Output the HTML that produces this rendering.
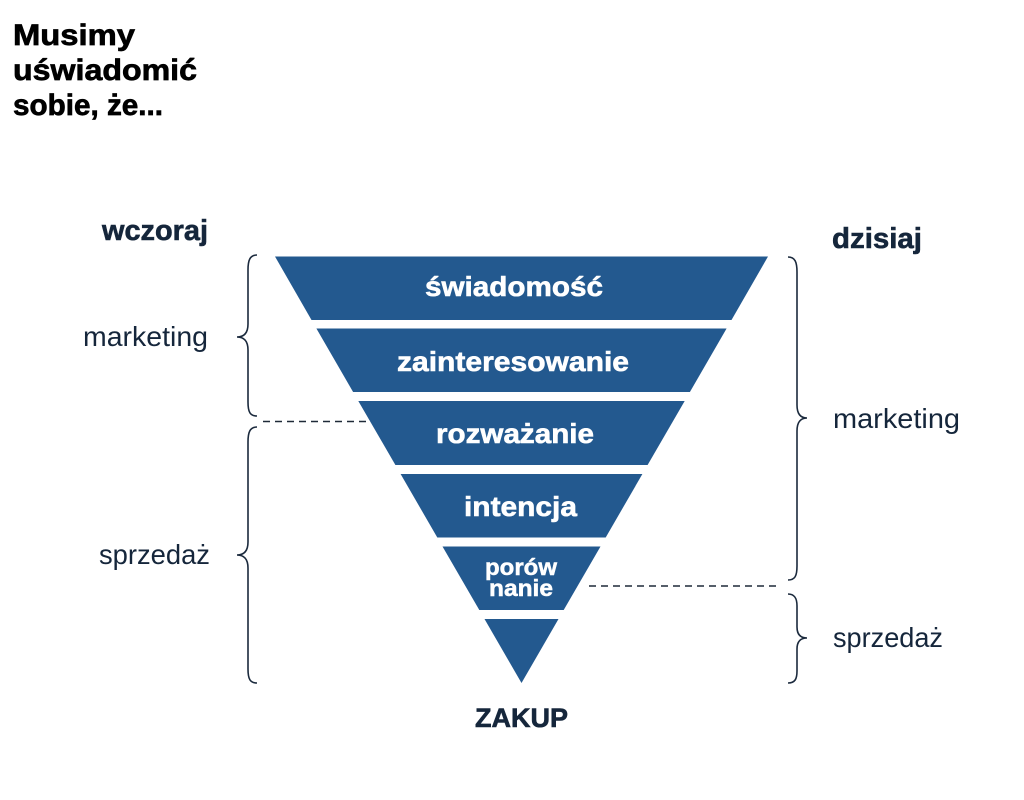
<!DOCTYPE html>
<html>
<head>
<meta charset="utf-8">
<style>
html,body{margin:0;padding:0;background:#fff;}
svg{display:block;}
text{font-family:"Liberation Sans",Arial,sans-serif;}
</style>
</head>
<body>
<svg width="1024" height="800" viewBox="0 0 1024 800" xmlns="http://www.w3.org/2000/svg">
<rect width="1024" height="800" fill="#fff"/>

<!-- Title -->
<g font-weight="bold" font-size="30" fill="#000" stroke="#000" stroke-width="0.7">
<text x="13" y="45" textLength="122" lengthAdjust="spacingAndGlyphs">Musimy</text>
<text x="13" y="80" textLength="184" lengthAdjust="spacingAndGlyphs">uświadomić</text>
<text x="13" y="115" textLength="150" lengthAdjust="spacingAndGlyphs">sobie, że...</text>
</g>

<!-- Funnel -->
<g fill="#23598f">
<polygon points="275,256.5 768,256.5 731.5,320 311.5,320"/>
<polygon points="316.4,328.5 726.6,328.5 689.9,392 353.1,392"/>
<polygon points="358.3,401 684.7,401 647.6,465 395.4,465"/>
<polygon points="400.6,474 642.4,474 605.7,537.5 437.3,537.5"/>
<polygon points="442.5,546.5 600.5,546.5 563.7,610 479.3,610"/>
<polygon points="484.5,619 558.5,619 521.5,683"/>
</g>

<!-- Funnel labels -->
<g font-weight="bold" font-size="28" fill="#fff" stroke="#fff" stroke-width="0.6">
<text x="425" y="296" textLength="178" lengthAdjust="spacingAndGlyphs">świadomość</text>
<text x="397" y="371" textLength="232" lengthAdjust="spacingAndGlyphs">zainteresowanie</text>
<text x="436" y="443" textLength="158" lengthAdjust="spacingAndGlyphs">rozważanie</text>
<text x="464" y="516" textLength="113" lengthAdjust="spacingAndGlyphs">intencja</text>
</g>
<g font-weight="bold" font-size="23" fill="#fff" stroke="#fff" stroke-width="0.5">
<text x="485" y="575" textLength="72" lengthAdjust="spacingAndGlyphs">porów</text>
<text x="489" y="596" textLength="64" lengthAdjust="spacingAndGlyphs">nanie</text>
</g>

<!-- Side labels -->
<g fill="#15263b">
<text x="102" y="240" font-weight="bold" font-size="29" stroke="#15263b" stroke-width="0.6" textLength="106" lengthAdjust="spacingAndGlyphs">wczoraj</text>
<text x="832" y="248" font-weight="bold" font-size="29" stroke="#15263b" stroke-width="0.6" textLength="90" lengthAdjust="spacingAndGlyphs">dzisiaj</text>
<text x="83" y="346" font-size="28" textLength="125" lengthAdjust="spacingAndGlyphs">marketing</text>
<text x="99" y="564" font-size="28" textLength="111" lengthAdjust="spacingAndGlyphs">sprzedaż</text>
<text x="833" y="428" font-size="28" textLength="127" lengthAdjust="spacingAndGlyphs">marketing</text>
<text x="833" y="647" font-size="28" textLength="110" lengthAdjust="spacingAndGlyphs">sprzedaż</text>
<text x="475" y="727" font-weight="bold" font-size="27" stroke="#15263b" stroke-width="0.6" textLength="93" lengthAdjust="spacingAndGlyphs">ZAKUP</text>
</g>

<!-- Braces -->
<g fill="none" stroke="#1b2a3d" stroke-width="1.6">
<path d="M257,255 C250,255 248,260 248,270 L248,324 C248,332 245,337 237,337 C245,337 248,342 248,350 L248,402 C248,412 250,416 257,416"/>
<path d="M257,427 C250,427 248,432 248,442 L248,542 C248,550 245,555 237,555 C245,555 248,560 248,568 L248,669 C248,679 250,683 257,683"/>
<path d="M788,257 C795,257 797,262 797,272 L797,405 C797,413 800,418 807,418 C800,418 797,423 797,431 L797,566 C797,576 795,580 788,580"/>
<path d="M788,594 C795,594 797,599 797,606 L797,627 C797,634 800,638 807,638 C800,638 797,642 797,649 L797,671 C797,679 795,683 788,683"/>
</g>

<!-- Dashed lines -->
<g stroke="#1f2a38" stroke-width="1.5" stroke-dasharray="7,5">
<line x1="263" y1="421.5" x2="367" y2="421.5"/>
<line x1="589" y1="586" x2="777" y2="586"/>
</g>
</svg>
</body>
</html>
